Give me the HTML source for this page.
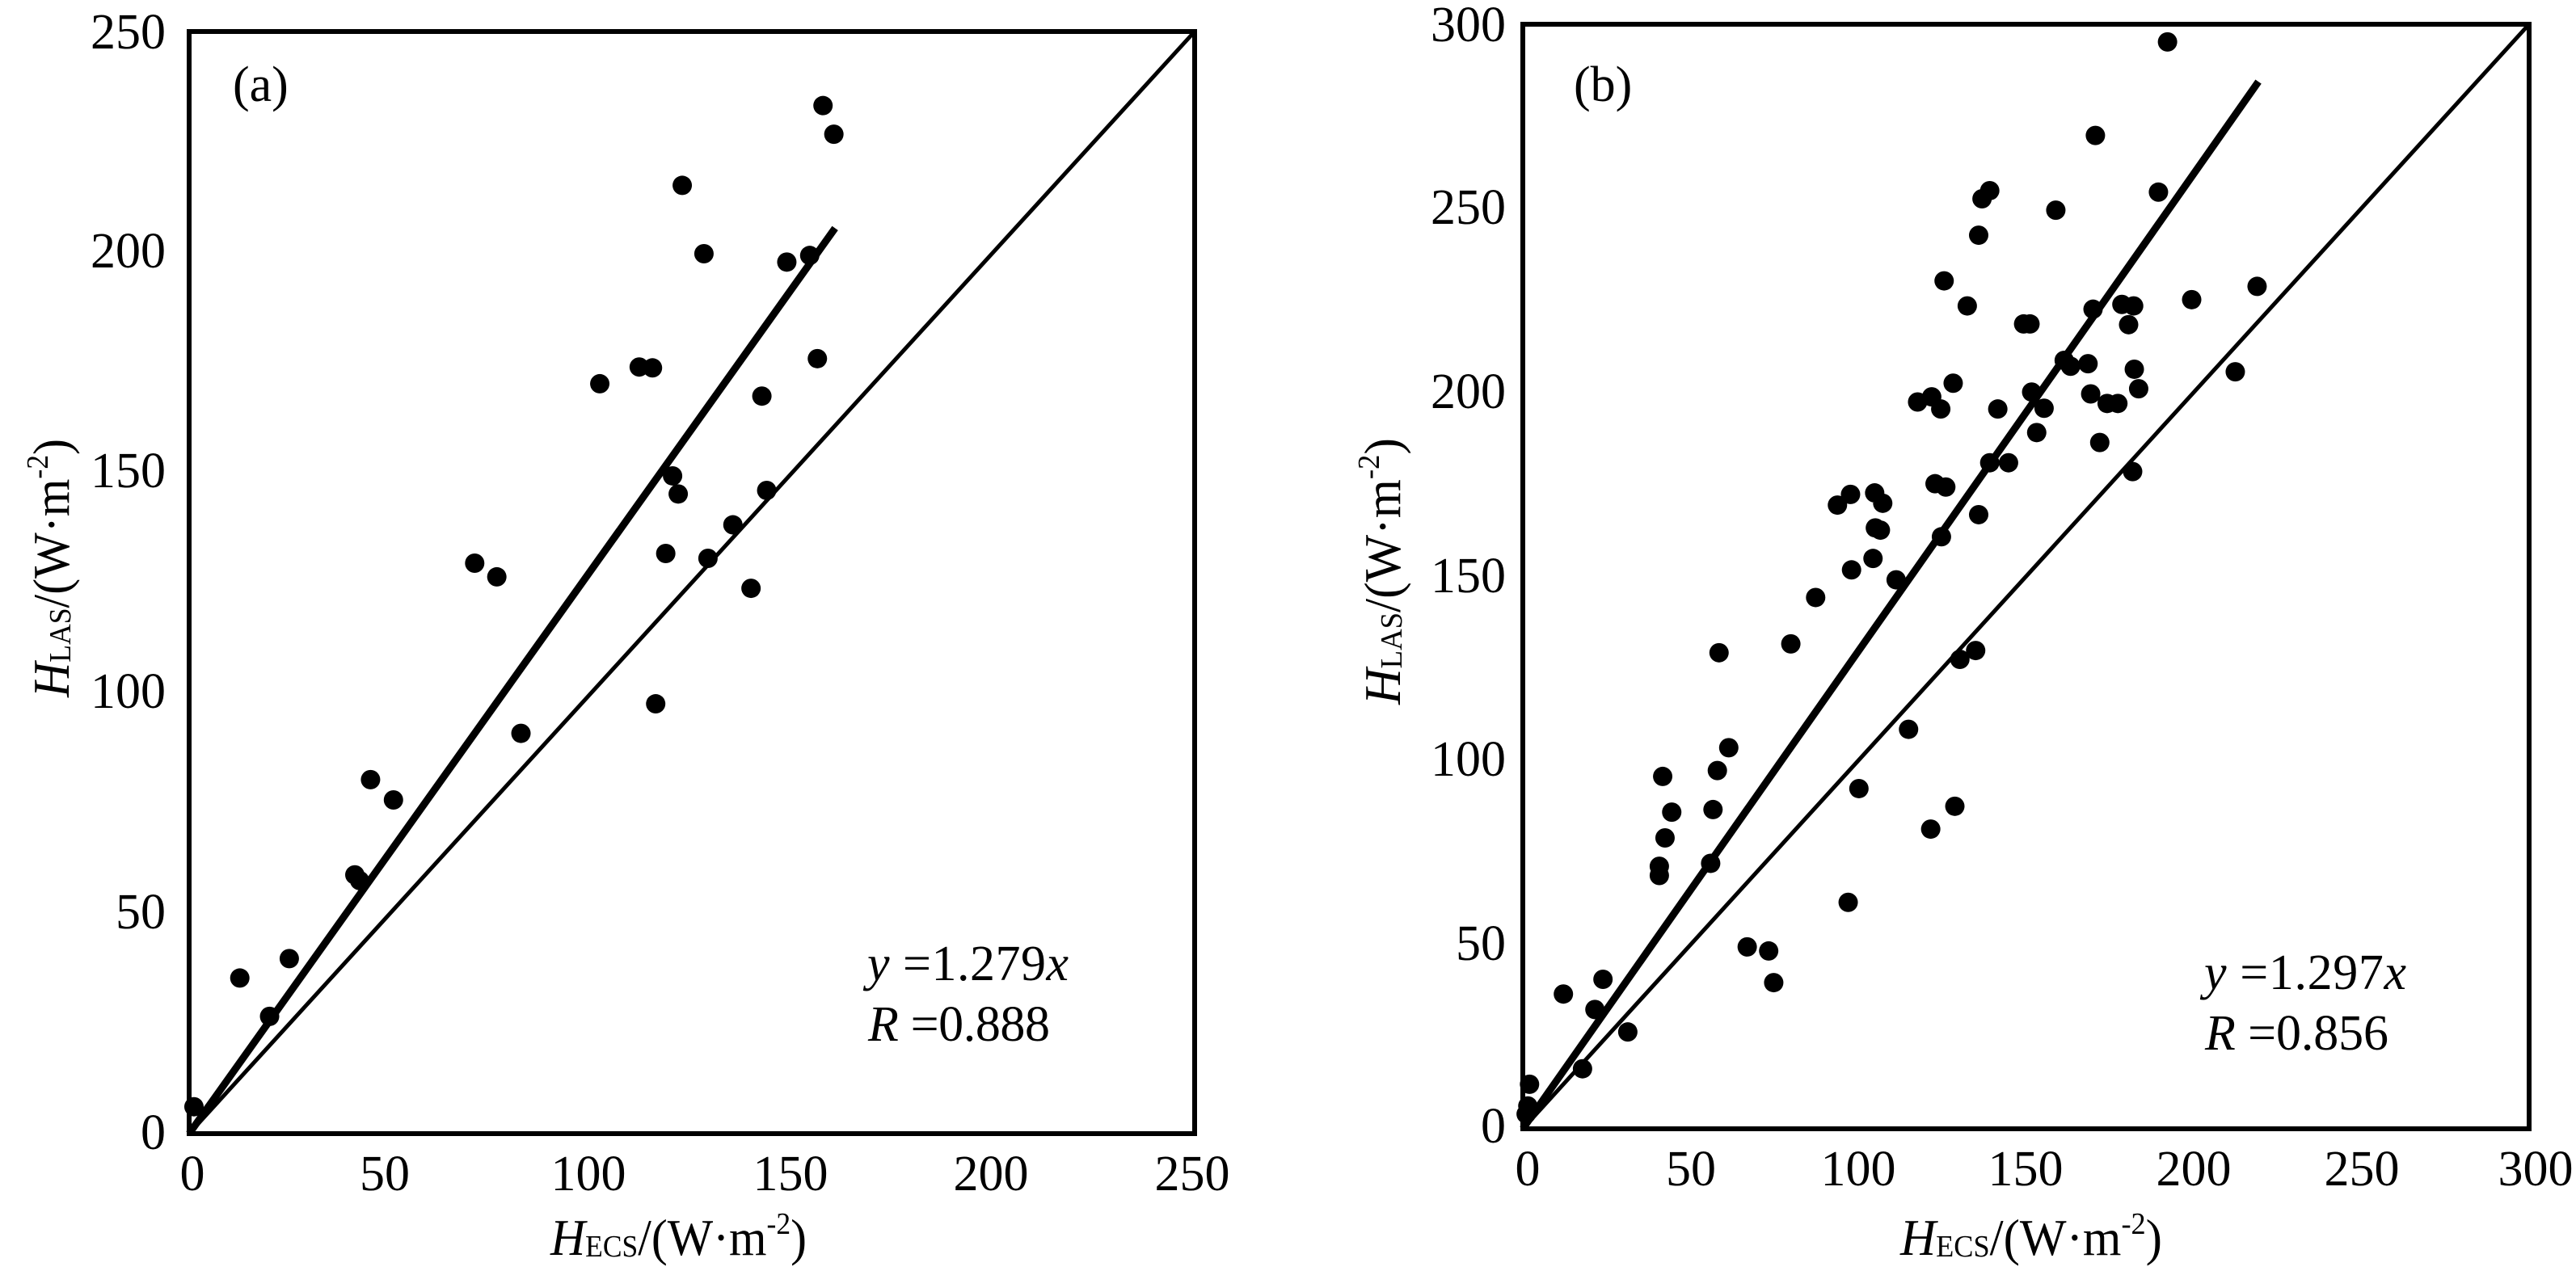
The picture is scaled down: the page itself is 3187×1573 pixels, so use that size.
<!DOCTYPE html>
<html><head><meta charset="utf-8"><style>
html,body{margin:0;padding:0;background:#fff;}
svg{display:block;}
text{font-family:"Liberation Serif","Times New Roman",serif;fill:#000;}
</style></head><body>
<svg width="3187" height="1573" viewBox="0 0 3187 1573" xmlns="http://www.w3.org/2000/svg">
<rect x="0" y="0" width="3187" height="1573" fill="#fff"/>

<g transform="translate(234,1403) scale(4.976,-5.456)" fill="none" stroke="#000">
<path d="M0 0L250 250" stroke-width="5" vector-effect="non-scaling-stroke"/>
<path d="M0 0L160.6 205.4" stroke-width="9" vector-effect="non-scaling-stroke"/>
<path stroke-width="24" stroke-linecap="round" vector-effect="non-scaling-stroke" d="M1.2 6.1h0M12.6 35.3h0M20 26.6h0M24.9 39.7h0M41.2 58.7h0M42.4 57.4h0M45.1 80.3h0M50.8 75.7h0M71 129.4h0M76.5 126.3h0M82.5 90.8h0M102.1 170.1h0M111.9 173.9h0M115.2 173.7h0M116 97.5h0M118.5 131.6h0M120.2 149.2h0M121.6 145.1h0M122.6 215.1h0M128 199.6h0M129 130.5h0M135.2 138.1h0M139.7 123.7h0M142.4 167.3h0M143.6 145.9h0M148.6 197.7h0M154.3 199.2h0M156.2 175.8h0M157.6 233.2h0M160.3 226.7h0"/>
</g>
<rect x="234" y="39" width="1244" height="1364" fill="none" stroke="#000" stroke-width="6"/>

<g font-size="62" text-anchor="end">
<text x="205" y="1422">0</text>
<text x="205" y="1149">50</text>
<text x="205" y="876">100</text>
<text x="205" y="603">150</text>
<text x="205" y="331">200</text>
<text x="205" y="60">250</text>
</g>
<g font-size="62" text-anchor="middle">
<text x="238" y="1473">0</text>
<text x="476" y="1473">50</text>
<text x="728" y="1473">100</text>
<text x="978" y="1473">150</text>
<text x="1226" y="1473">200</text>
<text x="1475" y="1473">250</text>
</g>
<text x="288" y="125" font-size="62">(a)</text>
<text x="1073" y="1213" font-size="62" textLength="249" lengthAdjust="spacing"><tspan font-style="italic">y</tspan> =1.279<tspan font-style="italic">x</tspan></text>
<text x="1074" y="1288" font-size="62" textLength="225" lengthAdjust="spacing"><tspan font-style="italic">R</tspan> =0.888</text>
<text x="681" y="1553" font-size="64" textLength="317" lengthAdjust="spacingAndGlyphs"><tspan font-style="italic">H</tspan><tspan font-size="38" dy="2">ECS</tspan><tspan dy="-2">/(W·m</tspan><tspan font-size="38" dy="-26">-2</tspan><tspan dy="26">)</tspan></text>
<text transform="translate(85,863) rotate(-90)" font-size="64" textLength="320" lengthAdjust="spacingAndGlyphs"><tspan font-style="italic">H</tspan><tspan font-size="38" dy="2">LAS</tspan><tspan dy="-2">/(W·m</tspan><tspan font-size="38" dy="-26">-2</tspan><tspan dy="26">)</tspan></text>

<g transform="translate(1884,1397) scale(4.15,-4.5567)" fill="none" stroke="#000">
<path d="M0 0L300 300" stroke-width="5" vector-effect="non-scaling-stroke"/>
<path d="M0 0L219.3 284.4" stroke-width="9" vector-effect="non-scaling-stroke"/>
<path stroke-width="24" stroke-linecap="round" vector-effect="non-scaling-stroke" d="M2 12.1h0M1.5 6.2h0M1 4h0M12.1 36.6h0M17.8 16.3h0M21.5 32.4h0M23.9 40.6h0M31.3 26.3h0M40.7 71.3h0M40.7 68.8h0M41.7 95.7h0M42.4 79h0M44.4 86h0M56 72.1h0M56.7 86.7h0M58 97.3h0M58.5 129.3h0M61.4 103.5h0M66.9 49.4h0M73.3 48.3h0M74.8 39.7h0M79.9 131.7h0M87.3 144.3h0M93.8 169.4h0M97 61.5h0M97.7 172.3h0M98 151.8h0M100.2 92.4h0M104.4 154.9h0M104.9 172.7h0M105.1 163.2h0M106.6 162.6h0M107.3 169.9h0M111.3 149.1h0M115 108.5h0M117.7 197.4h0M121.6 81.4h0M121.9 198.8h0M122.9 175.2h0M124.6 195.5h0M124.8 160.8h0M125.6 230.3h0M126.1 174.3h0M128.3 202.5h0M128.8 87.6h0M130.3 127.5h0M132.5 223.5h0M135 129.9h0M135.9 242.7h0M135.9 166.8h0M136.9 252.6h0M139.2 254.8h0M139.2 180.9h0M141.6 195.5h0M144.8 180.9h0M149.3 218.6h0M151.2 218.6h0M151.7 200.1h0M153.2 189.1h0M155.4 195.7h0M158.9 249.5h0M161.4 208.7h0M163.3 207.1h0M168.5 207.8h0M169.3 199.6h0M170 222.6h0M170.7 269.8h0M172 186.4h0M174.2 197h0M177.4 197h0M178.6 223.9h0M180.6 218.4h0M181.8 178.5h0M182.1 223.5h0M182.3 206.3h0M183.6 201h0M189.5 254.4h0M192.2 295.2h0M199.4 225.2h0M212.4 205.6h0M218.9 228.8h0"/>
</g>
<rect x="1884" y="30" width="1245" height="1367" fill="none" stroke="#000" stroke-width="6"/>

<g font-size="62" text-anchor="end">
<text x="1863" y="1414">0</text>
<text x="1863" y="1188">50</text>
<text x="1863" y="960">100</text>
<text x="1863" y="733">150</text>
<text x="1863" y="505">200</text>
<text x="1863" y="277">250</text>
<text x="1863" y="51">300</text>
</g>
<g font-size="62" text-anchor="middle">
<text x="1890" y="1467">0</text>
<text x="2092" y="1467">50</text>
<text x="2299" y="1467">100</text>
<text x="2506" y="1467">150</text>
<text x="2714" y="1467">200</text>
<text x="2922" y="1467">250</text>
<text x="3137" y="1467">300</text>
</g>
<text x="1947" y="125" font-size="62">(b)</text>
<text x="2727" y="1224" font-size="62" textLength="250" lengthAdjust="spacing"><tspan font-style="italic">y</tspan> =1.297<tspan font-style="italic">x</tspan></text>
<text x="2728" y="1299" font-size="62" textLength="227" lengthAdjust="spacing"><tspan font-style="italic">R</tspan> =0.856</text>
<text x="2351" y="1553" font-size="64" textLength="324" lengthAdjust="spacingAndGlyphs"><tspan font-style="italic">H</tspan><tspan font-size="38" dy="2">ECS</tspan><tspan dy="-2">/(W·m</tspan><tspan font-size="38" dy="-26">-2</tspan><tspan dy="26">)</tspan></text>
<text transform="translate(1732,872) rotate(-90)" font-size="64" textLength="330" lengthAdjust="spacingAndGlyphs"><tspan font-style="italic">H</tspan><tspan font-size="38" dy="2">LAS</tspan><tspan dy="-2">/(W·m</tspan><tspan font-size="38" dy="-26">-2</tspan><tspan dy="26">)</tspan></text>
</svg>
</body></html>
